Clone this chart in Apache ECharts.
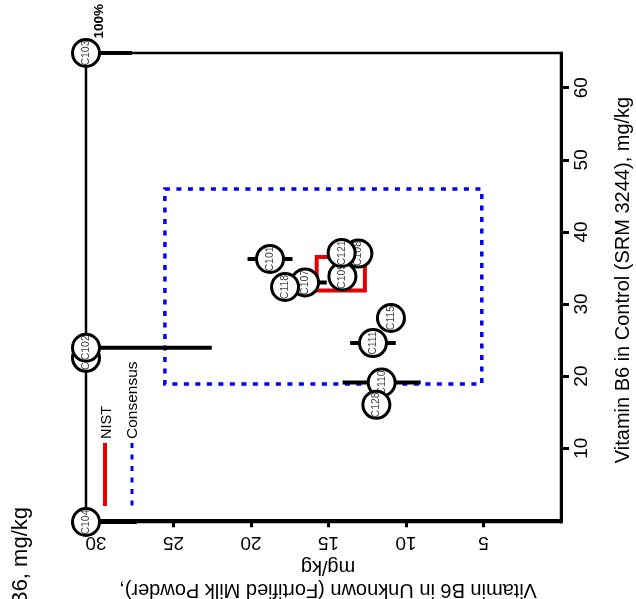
<!DOCTYPE html>
<html>
<head>
<meta charset="utf-8">
<script src="https://cdn.jsdelivr.net/npm/echarts@6/dist/echarts.min.js"></script>
<style>
  html, body { margin: 0; padding: 0; background: #fff; }
  #chart { width: 636px; height: 599px; }
</style>
</head>
<body>
<div id="chart"></div>
<script>
// Laboratory codes, listed in drawing order
const labCodes = ['C104', 'C103', 'C117', 'C102', 'C101', 'C107', 'C118', 'C108', 'C109', 'C121', 'C115', 'C111', 'C110', 'C128'];
// Vitamin B6 in the control (SRM 3244), mg/kg (off-scale results sit on the plot limit)
const controlValues = [-0.24, 64.82, 22.54, 23.93, 36.25, 33.0, 32.36, 37.0, 33.83, 37.08, 28.06, 24.58, 19.11, 16.01];
// Vitamin B6 in the unknown (fortified milk powder), mg/kg
const unknownValues = [30.64, 30.64, 30.64, 30.64, 18.77, 16.51, 17.80, 13.07, 14.10, 14.15, 10.97, 12.13, 11.57, 11.91];
const unknownLow = [27.36, 27.68, 29.8, 22.53, 17.32, 15.11, 17.1, 12.47, 13.4, 13.55, 10.37, 10.66, 9.05, 11.21];
const unknownHigh = [30.64, 30.64, 30.64, 30.64, 20.22, 17.91, 18.5, 13.67, 14.8, 14.75, 11.57, 13.60, 14.09, 12.61];

// Reference regions
const nistControl = [31.89, 36.53];
const nistUnknown = [12.65, 15.76];
const consensusControl = [18.89, 45.97];
const consensusUnknown = [5.11, 25.55];

// Axis limits and ticks
const controlRange = [-0.24, 64.82];
const unknownRange = [0, 30.64];
const controlTicks = [10, 20, 30, 40, 50, 60];
const unknownTicks = [5, 10, 15, 20, 25, 30];

// Extra annotations next to points
const pointNotes = [['C103', '100%']];

const FONT = 'Liberation Sans, Arial, Helvetica, sans-serif';
const chart = echarts.init(document.getElementById('chart'), null, { renderer: 'canvas' });

const boxData = [
  [consensusUnknown[0], consensusControl[0], consensusUnknown[1], consensusControl[1]],
  [nistUnknown[0], nistControl[0], nistUnknown[1], nistControl[1]]
];
const boxStyles = [
  { stroke: '#0000f0', lineWidth: 3.5, lineDash: [5, 6.5], fill: null },
  { stroke: '#e60000', lineWidth: 4, fill: null }
];

const pointData = labCodes.map((c, i) => [unknownValues[i], controlValues[i], unknownLow[i], unknownHigh[i]]);

const noteData = pointNotes.map(n => {
  const i = labCodes.indexOf(n[0]);
  return [unknownValues[i], controlValues[i], n[1]];
});

const option = {
  animation: false,
  grid: {
    left: 86, right: 75, top: 53, bottom: 77,
    show: true, borderColor: '#000', borderWidth: 2.5, backgroundColor: 'transparent'
  },
  xAxis: {
    type: 'value', inverse: true, position: 'bottom',
    min: unknownRange[0], max: unknownRange[1],
    axisLine: { show: true, lineStyle: { color: '#000', width: 3 } },
    axisTick: { show: true, length: 7, lineStyle: { color: '#000', width: 3 }, customValues: unknownTicks },
    axisLabel: { show: false },
    splitLine: { show: false }
  },
  yAxis: {
    type: 'value', position: 'right',
    min: controlRange[0], max: controlRange[1],
    axisLine: { show: true, lineStyle: { color: '#000', width: 3 } },
    axisTick: { show: true, length: 8, lineStyle: { color: '#000', width: 3 }, customValues: controlTicks },
    axisLabel: { show: false },
    splitLine: { show: false }
  },
  series: [
    {
      // consensus and NIST regions
      type: 'custom', clip: false, z: 2,
      data: boxData,
      renderItem(params, api) {
        const p0 = api.coord([api.value(0), api.value(1)]);
        const p1 = api.coord([api.value(2), api.value(3)]);
        return {
          type: 'rect',
          shape: {
            x: Math.min(p0[0], p1[0]), y: Math.min(p0[1], p1[1]),
            width: Math.abs(p1[0] - p0[0]), height: Math.abs(p1[1] - p0[1])
          },
          style: Object.assign({}, boxStyles[params.dataIndex])
        };
      }
    },
    {
      // "100%" note, drawn beneath the points
      type: 'custom', clip: false, z: 3,
      data: noteData,
      renderItem(params, api) {
        const p = api.coord([api.value(0), api.value(1)]);
        return {
          type: 'text', x: p[0] + 13, y: p[1] - 49, rotation: Math.PI / 2,
          style: {
            text: noteData[params.dataIndex][2], fill: '#000',
            fontFamily: FONT, fontSize: 13.5, fontWeight: 'bold',
            align: 'right', verticalAlign: 'middle'
          }
        };
      }
    },
    {
      // laboratory results: uncertainty bar, circle and code
      type: 'custom', clip: false, z: 4,
      data: pointData,
      renderItem(params, api) {
        const c = api.coord([api.value(0), api.value(1)]);
        const a = api.coord([api.value(2), api.value(1)]);
        const b = api.coord([api.value(3), api.value(1)]);
        return {
          type: 'group',
          children: [
            { type: 'line', shape: { x1: a[0], y1: a[1], x2: b[0], y2: b[1] },
              style: { stroke: '#000', lineWidth: 4 } },
            { type: 'circle', shape: { cx: c[0], cy: c[1], r: 13.5 },
              style: { fill: '#fff', stroke: '#000', lineWidth: 3 } },
            { type: 'text', x: c[0], y: c[1], rotation: Math.PI / 2,
              style: { text: labCodes[params.dataIndex], fill: '#444', fontFamily: FONT,
                       fontSize: 10.5, align: 'center', verticalAlign: 'middle' } }
          ]
        };
      }
    },
    {
      // tick labels for the unknown axis
      type: 'custom', clip: false, z: 5,
      data: unknownTicks.map(v => [v, controlRange[0]]),
      renderItem(params, api) {
        const p = api.coord([api.value(0), api.value(1)]);
        return {
          type: 'text', x: p[0], y: p[1] + 20, rotation: Math.PI,
          style: { text: String(unknownTicks[params.dataIndex]), fill: '#000', fontFamily: FONT,
                   fontSize: 19, align: 'center', verticalAlign: 'middle' }
        };
      }
    },
    {
      // tick labels for the control axis
      type: 'custom', clip: false, z: 5,
      data: controlTicks.map(v => [unknownRange[0], v]),
      renderItem(params, api) {
        const p = api.coord([api.value(0), api.value(1)]);
        return {
          type: 'text', x: p[0] + 21, y: p[1], rotation: Math.PI / 2,
          style: { text: String(controlTicks[params.dataIndex]), fill: '#000', fontFamily: FONT,
                   fontSize: 19, align: 'center', verticalAlign: 'middle' }
        };
      }
    }
  ],
  graphic: [
    { type: 'text', x: 21, y: 507, rotation: Math.PI / 2, z: 10,
      style: { text: 'Vitamin B6, mg/kg', fill: '#000', fontFamily: FONT, fontSize: 22,
               align: 'right', verticalAlign: 'middle' } },
    { type: 'text', x: 623, y: 280, rotation: Math.PI / 2, z: 10,
      style: { text: 'Vitamin B6 in Control (SRM 3244), mg/kg', fill: '#000', fontFamily: FONT, fontSize: 20,
               align: 'center', verticalAlign: 'middle' } },
    { type: 'text', x: 328, y: 590, rotation: Math.PI, z: 10,
      style: { text: 'Vitamin B6 in Unknown (Fortified Milk Powder),', fill: '#000', fontFamily: FONT, fontSize: 20,
               align: 'center', verticalAlign: 'middle' } },
    { type: 'text', x: 328, y: 567, rotation: Math.PI, z: 10,
      style: { text: 'mg/kg', fill: '#000', fontFamily: FONT, fontSize: 20,
               align: 'center', verticalAlign: 'middle' } },
    // legend
    { type: 'line', z: 10, shape: { x1: 105, y1: 443, x2: 105, y2: 506 },
      style: { stroke: '#e60000', lineWidth: 4 } },
    { type: 'text', x: 107, y: 439, rotation: Math.PI / 2, z: 10,
      style: { text: 'NIST', fill: '#000', fontFamily: FONT, fontSize: 14.5, align: 'left', verticalAlign: 'middle' } },
    { type: 'line', z: 10, shape: { x1: 132, y1: 443, x2: 132, y2: 506 },
      style: { stroke: '#0000f0', lineWidth: 3, lineDash: [5, 6.5] } },
    { type: 'text', x: 133, y: 439, rotation: Math.PI / 2, z: 10,
      style: { text: 'Consensus', fill: '#000', fontFamily: FONT, fontSize: 15.5, align: 'left', verticalAlign: 'middle' } }
  ]
};

chart.setOption(option);
</script>
</body>
</html>
